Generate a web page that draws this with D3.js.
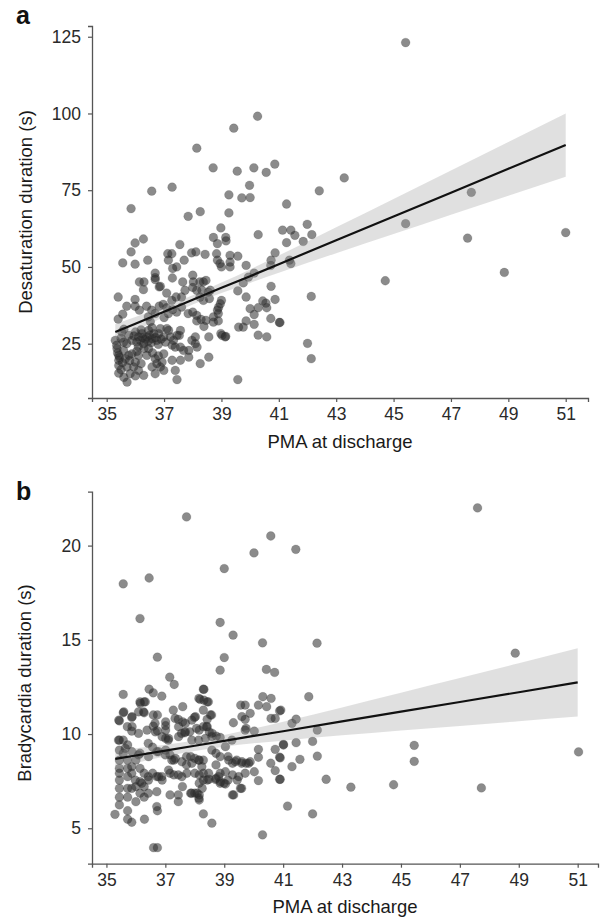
<!DOCTYPE html>
<html>
<head>
<meta charset="utf-8">
<script src="https://cdn.jsdelivr.net/npm/d3@7"></script>
<style>
  body { margin: 0; background: #fff; }
  svg text { font-family: "Liberation Sans", Arial, Helvetica, sans-serif; }
</style>
</head>
<body>
<script>

// panel a: PMA at discharge vs desaturation duration (s)
var desatPoints = [
  [35.85,69.0],[36.57,74.7],[37.28,76.0],[38.14,88.7],[37.84,66.5],[38.26,68.0],[38.71,82.3],[39.43,95.2],
  [40.26,99.1],[39.55,81.2],[40.13,82.3],[40.56,80.8],[40.86,83.5],[39.98,76.6],[39.26,73.5],[39.71,72.5],
  [40.0,72.6],[39.26,67.6],[41.27,70.5],[38.98,62.7],[41.13,62.0],[41.42,62.0],[45.42,123.1],[42.41,74.8],
  [43.28,79.0],[41.99,63.9],[45.42,64.1],[47.71,74.3],[51.0,61.2],[41.56,60.3],[42.15,60.5],[41.27,57.9],
  [41.85,58.3],[41.42,51.1],[47.58,59.4],[48.86,48.2],[44.71,45.5],[42.13,40.4],[41.04,31.9],[42.0,25.1],
  [42.13,20.1],[40.28,60.5],
  [38.72,59.6],[39.15,59.6],[38.86,57.6],[39.16,58.5],[35.99,57.8],[36.28,59.1],[35.85,54.9],[35.56,51.3],
  [35.99,50.9],[36.43,52.2],[37.13,54.3],[37.27,54.3],[37.55,57.3],[37.15,52.2],[37.3,49.5],[37.44,50.0],
  [37.7,52.2],[37.96,54.6],[38.11,54.9],[38.43,54.1],[38.83,54.3],[38.86,52.2],[38.95,51.1],[39.3,53.8],
  [39.3,51.6],[39.3,50.0],[39.0,50.0],[39.57,53.5],[39.86,50.5],[40.87,54.6],[40.73,52.2],[40.72,50.5],
  [41.37,52.2],
  [36.69,48.0],[36.69,46.5],[36.69,45.9],[36.14,45.1],[36.3,45.1],[36.28,42.6],[36.83,43.5],[37.09,41.5],
  [37.29,46.4],[37.42,40.2],[37.65,45.1],[37.73,42.4],[37.61,40.2],[38.0,47.3],[38.02,45.1],[38.0,43.3],
  [38.14,42.4],[38.25,45.1],[38.37,45.1],[38.46,45.6],[38.54,41.8],[38.58,39.7],[38.37,39.1],[38.25,40.2],
  [39.57,42.2],[39.76,44.8],[39.86,40.2],[40.14,48.0],[39.94,46.7],[40.73,43.7],[40.87,39.4],[36.87,43.7],
  [38.32,42.4],[38.61,42.4],
  [39.0,39.1],[38.86,35.9],[38.72,33.7],[38.89,34.8],[40.0,36.4],[40.14,34.5],[40.28,36.7],[40.44,38.9],
  [40.55,38.2],[40.58,36.7],[40.72,33.2],[41.02,31.9],[40.14,31.3],[39.76,30.4],[39.86,32.4],[40.28,27.8],
  [40.58,27.2],[39.57,13.3],[38.98,28.3],[39.15,27.4],[35.4,40.2],[35.7,37.2],[35.56,34.6],[35.4,33.0],
  [35.99,39.4],[35.99,37.2],[36.14,35.9],[36.39,37.2],[36.57,35.9],[36.45,33.7],[36.69,34.8],[36.83,37.2],
  [36.97,37.8],[37.09,36.7],[37.15,34.8],[37.27,39.1],[37.3,36.1],[37.44,35.3],[37.61,36.9],[37.84,34.8],
  [38.0,35.3],[38.14,34.2],[38.14,32.4],[38.29,32.9],[38.46,32.6],[38.72,32.0],[38.89,32.4],[38.39,30.6],
  [38.96,38.0],[36.52,32.2],[37.0,33.5],[38.9,36.8],
  [35.3,26.1],[35.53,28.8],[35.59,25.5],[35.77,27.7],[35.88,26.1],[36.0,28.8],[36.11,27.2],[36.17,26.1],
  [36.23,28.3],[36.29,25.0],[36.4,27.2],[36.46,29.3],[36.58,26.6],[36.64,28.3],[36.75,26.1],[36.81,28.3],
  [36.99,27.2],[37.16,29.3],[37.22,27.2],[37.33,26.1],[37.45,27.7],[37.53,27.7],[37.57,29.3],[37.28,24.5],
  [37.68,22.8],[37.57,23.9],[37.1,29.9],[36.87,29.9],[36.58,30.2],
  [35.36,23.4],[35.42,21.2],[35.42,19.6],[35.42,17.9],[35.42,15.4],[35.59,22.8],[35.65,20.1],[35.77,21.2],
  [35.71,17.4],[35.71,12.5],[35.82,15.2],[35.88,21.7],[35.94,17.4],[36.0,19.0],[36.11,21.2],[36.11,16.3],
  [36.29,14.7],[36.4,21.2],[36.46,23.4],[36.58,17.4],[36.69,20.1],[36.69,15.2],[36.75,18.5],[36.87,17.4],
  [36.93,19.0],[36.99,21.7],[36.99,16.3],[37.28,19.6],[37.39,16.3],[37.45,13.3],[37.57,19.6],[37.39,23.9],
  [37.86,22.8],[37.97,26.1],[38.09,27.2],[37.86,20.6],[38.09,25.0],[38.15,23.9],[38.26,18.5],[38.56,27.2],
  [38.56,20.6],[39.02,27.7],[39.13,27.2],[39.6,30.4],
  [35.5,26.8],[35.7,25.0],[35.95,27.5],[36.05,25.5],[36.2,29.5],[36.35,26.4],[36.5,27.8],[36.55,25.3],
  [36.7,27.0],[36.9,26.5],[36.1,24.0],[36.3,23.5],[35.6,29.7],[35.35,24.5],[36.8,24.8],[37.05,25.5],
  [36.25,27.0],[36.45,25.8],
  [35.38,22.0],[35.45,20.5],[35.55,18.8],[35.8,19.5],[35.5,16.5],[36.2,18.5],[36.05,22.5],[36.6,22.0],
  [36.8,21.0],[35.6,14.0],[36.0,14.5]
];

// panel b: PMA at discharge vs bradycardia duration (s)
var bradyPoints = [
  [35.57,17.97],[36.45,18.28],[36.14,16.13],[37.72,21.52],[39.0,18.78],[40.01,19.61],[40.58,20.51],[41.43,19.8],
  [38.86,15.92],[39.3,15.25],[40.3,14.84],[36.73,14.08],[39.0,14.06],[38.86,13.39],[40.43,13.43],[40.71,13.27],
  [37.15,13.02],[37.3,12.63],[36.45,12.38],[38.29,12.38],[47.6,22.0],[42.15,14.82],[48.88,14.29],
  [41.87,11.98],[40.92,11.27],[41.3,10.57],[41.44,10.79],[42.16,10.21],[41.01,9.45],[41.44,9.54],[42.0,9.61],
  [40.9,8.74],[41.57,8.66],[42.16,8.83],[41.3,8.27],[40.9,7.6],[42.46,7.6],[43.3,7.18],[44.75,7.31],
  [45.45,9.40],[45.45,8.55],[47.73,7.14],[51.03,9.05],[41.15,6.18],[42.0,5.76],
  [35.57,12.1],[36.59,12.19],[36.88,12.01],[38.18,11.84],[38.31,11.8],[38.46,11.71],[37.59,11.45],[37.27,11.27],
  [37.33,10.83],[38.29,11.27],[38.57,11.01],[38.42,10.78],[36.14,11.71],[36.28,11.71],[35.57,11.13],[35.86,10.88],
  [36.28,11.13],[35.44,10.7],[35.71,10.39],[35.86,10.16],[36.59,11.01],[36.73,11.01],[36.59,10.42],[36.73,10.17],
  [36.65,10.57],[37.01,10.65],[37.01,10.44],[37.01,10.21],[37.01,9.77],[37.1,9.68],[37.55,10.04],[37.66,10.07],
  [37.83,10.12],[38.06,10.3],[38.15,10.21],[37.44,10.78],[37.59,10.65],[37.99,10.88],[38.29,10.39],[38.4,10.39],
  [38.49,10.12],[38.73,9.89],[38.86,9.82],[39.31,10.6],[39.6,10.92],[39.71,10.78],[39.74,10.3],[39.88,11.1],
  [39.71,10.21],[39.56,11.54],[39.71,11.54],[40.02,10.16],[40.16,11.54],[40.31,11.98],[40.44,11.45],[40.59,11.89],
  [40.59,10.83],[40.73,10.83],[40.88,11.23],[40.16,9.19],[40.16,8.77],[40.16,7.53],[40.73,9.19],[40.88,8.77],
  [41.01,9.42],[40.58,8.45],[40.73,8.06],[40.88,7.6],[40.3,4.65],
  [35.29,5.74],[35.44,6.24],[35.44,6.65],[35.44,7.12],[35.44,7.56],[35.44,7.92],[35.44,8.18],[35.44,8.62],
  [35.44,9.15],[35.44,9.68],[35.57,9.68],[35.72,9.42],[35.57,8.98],[35.72,8.62],[35.72,8.18],[35.86,8.27],
  [35.72,7.74],[35.86,7.92],[35.72,7.12],[35.86,7.12],[35.72,6.65],[36.0,6.41],[35.72,5.93],[35.86,5.32],
  [35.72,5.48],[36.29,5.48],[36.0,7.21],
  [36.0,8.62],[36.14,8.98],[36.14,8.18],[36.28,7.92],[36.14,7.47],[36.28,7.21],[36.42,7.74],[36.14,6.86],
  [36.42,6.86],[36.28,6.65],
  [36.42,9.51],[36.57,9.3],[36.71,9.06],[36.57,7.92],[36.71,7.74],[36.88,7.74],[36.71,6.94],[36.71,6.15],
  [36.73,5.93],[36.6,3.97],[36.73,3.97],
  [37.01,9.15],[37.16,8.89],[37.29,8.62],[37.16,7.92],[37.29,7.83],[37.44,7.83],[37.16,6.77],[37.44,6.77],
  [37.58,7.21],[37.44,6.41],
  [37.72,8.8],[37.86,8.8],[38.0,8.71],[37.72,8.36],[38.15,8.62],[38.29,8.62],[38.0,7.92],[38.15,7.83],
  [38.29,7.92],[38.15,7.39],[38.29,7.56],[38.42,7.56],[37.86,6.86],[38.0,6.86],[38.15,6.77],[38.15,6.5],
  [38.29,5.76],[38.58,5.27],
  [38.58,9.15],[38.72,8.98],[38.86,8.8],[38.72,8.36],[38.86,7.92],[38.72,7.65],[38.86,7.39],[38.99,7.39],
  [39.13,7.56],[39.28,7.83],[39.28,6.77],[39.44,7.56],[39.59,7.12],[39.13,8.8],[39.28,8.45],[39.42,8.62],
  [39.59,8.45],[39.74,8.45],[39.88,8.53],[40.02,8.0],
  [38.31,12.37],[38.14,11.89],[38.42,11.71],[36.15,11.63],[36.32,11.71],[36.26,11.18],[36.09,11.18],[35.59,11.18],
  [35.87,10.92],[35.42,10.74],[38.02,10.92],[38.53,11.01],[38.42,10.39],[38.59,10.04],
  [37.89,6.86],[38.08,6.86],[38.14,6.6],[38.25,7.12],[38.48,7.6],[38.7,7.6],[38.87,7.47],[39.04,7.35],
  [39.32,6.77],[39.55,7.12],
  [35.41,9.68],[35.64,9.24],[35.87,9.06],[36.09,8.89],[36.43,8.8],[36.77,9.06],[37.0,8.89],[37.22,8.62],
  [37.34,8.71],[37.56,8.53],[37.9,8.45],[38.13,8.62],[38.24,8.27],[38.47,7.92],[38.81,7.74],[39.04,8.0],
  [39.15,8.62],[39.38,8.53],[39.6,8.53],[39.83,8.45],[39.49,7.74],[39.71,7.92],[35.98,7.56],[36.2,7.39],
  [36.43,7.56],[36.77,7.74],[36.89,7.56],[37.11,8.09],[37.56,7.74],[37.73,7.92],
  [35.87,10.39],[36.09,10.04],[36.38,10.21],[36.66,10.12],[36.89,9.86],[37.11,9.77],[37.45,9.86],[37.68,10.12],
  [37.9,9.68],[38.13,9.68],[38.36,9.77],[38.58,9.86],[37.9,10.74],[37.68,10.57],[37.45,10.39],[39.04,9.33],
  [39.26,9.68]
];

var xTicks = [35, 37, 39, 41, 43, 45, 47, 49, 51];
var desatTicks = [25, 50, 75, 100, 125];
var bradyTicks = [5, 10, 15, 20];

// linear fit + 95% CI at these PMA values
var bandX = [35.3, 36, 37, 38, 39, 40, 41, 43, 45, 47, 49, 51];
var desatFit  = [28.8, 31.5, 35.4, 39.3, 43.2, 47.0, 50.9, 58.7, 66.4, 74.2, 82.0, 89.7];
var desatLow  = [26.2, 29.3, 33.7, 37.8, 41.5, 44.8, 48.1, 54.5, 60.7, 67.0, 73.2, 79.4];
var desatHigh = [31.4, 33.7, 37.1, 40.8, 44.9, 49.2, 53.7, 62.9, 72.1, 81.4, 90.7, 100.0];
var bradyFit  = [8.68, 8.86, 9.12, 9.38, 9.64, 9.90, 10.15, 10.67, 11.19, 11.70, 12.22, 12.74];
var bradyLow  = [8.22, 8.47, 8.81, 9.10, 9.33, 9.51, 9.65, 9.93, 10.19, 10.43, 10.68, 10.93];
var bradyHigh = [9.15, 9.25, 9.43, 9.66, 9.95, 10.29, 10.65, 11.41, 12.19, 12.97, 13.76, 14.55];

var svg = d3.select("body").append("svg")
    .attr("width", 600)
    .attr("height", 919);

function drawPanel(p) {
    var g = svg.append("g");

    var x = d3.scaleLinear().domain(p.xDomain).range(p.xRange);
    var y = d3.scaleLinear().domain(p.yDomain).range(p.yRange);

    // points first, the CI band sits on top of them
    g.append("g").selectAll("circle")
        .data(p.points).enter().append("circle")
        .attr("cx", function (d) { return x(d[0]); })
        .attr("cy", function (d) { return y(d[1]); })
        .attr("r", 4.4)
        .attr("fill", "#2b2b2b")
        .attr("fill-opacity", 0.55)
        .attr("stroke", "#2b2b2b")
        .attr("stroke-opacity", 0.25)
        .attr("stroke-width", 0.6);

    var band = d3.area()
        .x(function (d, i) { return x(bandX[i]); })
        .y0(function (d, i) { return y(p.low[i]); })
        .y1(function (d, i) { return y(p.high[i]); })
        .curve(d3.curveMonotoneX);

    g.append("path")
        .datum(bandX)
        .attr("d", band)
        .attr("fill", "#999")
        .attr("fill-opacity", 0.3);

    var line = d3.line()
        .x(function (d, i) { return x(bandX[i]); })
        .y(function (d) { return y(d); });

    g.append("path")
        .datum(p.fit)
        .attr("d", line)
        .attr("fill", "none")
        .attr("stroke", "#111")
        .attr("stroke-width", 2.2);

    var xAxis = g.append("g")
        .attr("transform", "translate(0," + p.yRange[0] + ")")
        .call(d3.axisBottom(x).tickValues(xTicks).tickSizeOuter(0).tickSize(4).tickPadding(6));

    var yAxis = g.append("g")
        .attr("transform", "translate(" + p.xRange[0] + ",0)")
        .call(d3.axisLeft(y).tickValues(p.yTicks).tickSizeOuter(0).tickSize(4).tickPadding(7));

    [xAxis, yAxis].forEach(function (a) {
        a.select(".domain").attr("stroke", "#555").attr("stroke-width", 1.3);
        a.selectAll(".tick line").attr("stroke", "#555").attr("stroke-width", 1.2);
        a.selectAll(".tick text")
            .attr("fill", "#2a2a2a")
            .style("font-size", "17.5px");
    });

    g.append("text")
        .attr("x", (p.xRange[0] + p.xRange[1]) / 2)
        .attr("y", p.xTitleY)
        .attr("text-anchor", "middle")
        .attr("fill", "#1a1a1a")
        .style("font-size", "18.5px")
        .text("PMA at discharge");

    g.append("text")
        .attr("transform", "translate(" + p.yTitleX + "," + p.yTitleMid + ")rotate(-90)")
        .attr("text-anchor", "middle")
        .attr("fill", "#1a1a1a")
        .style("font-size", "18.5px")
        .text(p.yTitle);

    g.append("text")
        .attr("x", 16)
        .attr("y", p.tagY)
        .attr("fill", "#111")
        .style("font-size", "25px")
        .style("font-weight", "bold")
        .text(p.tag);
}

drawPanel({
    tag: "a", tagY: 24,
    points: desatPoints, fit: desatFit, low: desatLow, high: desatHigh,
    yTicks: desatTicks, yTitle: "Desaturation duration (s)",
    xDomain: [34.488, 51.777], xRange: [92, 588],
    yDomain: [7.3, 128.5], yRange: [398, 26],
    xTitleY: 448, yTitleX: 32, yTitleMid: 212
});

drawPanel({
    tag: "b", tagY: 500,
    points: bradyPoints, fit: bradyFit, low: bradyLow, high: bradyHigh,
    yTicks: bradyTicks, yTitle: "Bradycardia duration (s)",
    xDomain: [34.51, 51.69], xRange: [92, 598],
    yDomain: [3.12, 22.86], yRange: [863.7, 491.7],
    xTitleY: 913, yTitleX: 31, yTitleMid: 683
});

</script>
</body>
</html>
